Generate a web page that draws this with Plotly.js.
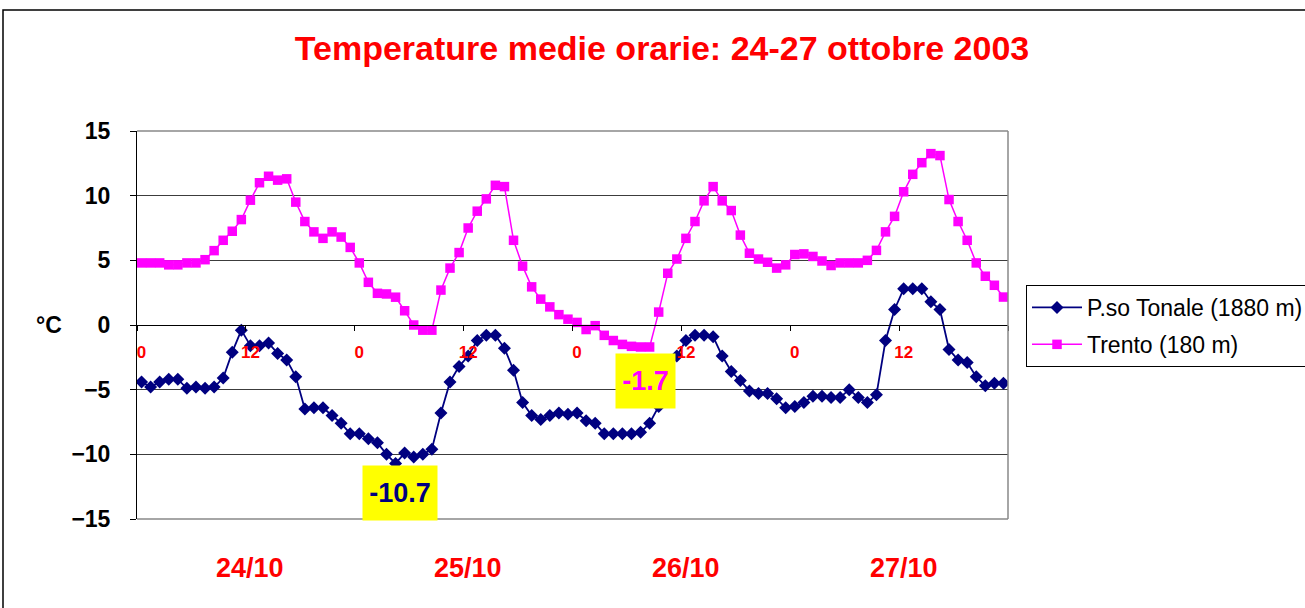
<!DOCTYPE html>
<html>
<head>
<meta charset="utf-8">
<script src="https://cdn.plot.ly/plotly-3.0.1.min.js"></script>
<style>
html,body{margin:0;padding:0;background:#fff;}
#chart{width:1305px;height:608px;}
</style>
</head>
<body>
<div id="chart"></div>
<script>
// ---- data ----
const hours = [0,1,2,3,4,5,6,7,8,9,10,11,12,13,14,15,16,17,18,19,20,21,22,23,
  24,25,26,27,28,29,30,31,32,33,34,35,36,37,38,39,40,41,42,43,44,45,46,47,
  48,49,50,51,52,53,54,55,56,57,58,59,60,61,62,63,64,65,66,67,68,69,70,71,
  72,73,74,75,76,77,78,79,80,81,82,83,84,85,86,87,88,89,90,91,92,93,94,95];

const tonale = [-4.4,-4.8,-4.4,-4.2,-4.2,-4.9,-4.8,-4.9,-4.8,-4.1,-2.1,-0.4,
  -1.6,-1.6,-1.4,-2.2,-2.7,-4.0,-6.5,-6.4,-6.4,-7.0,-7.6,-8.4,
  -8.4,-8.8,-9.1,-10.0,-10.7,-9.9,-10.2,-10.0,-9.6,-6.8,-4.4,-3.2,
  -2.4,-1.2,-0.8,-0.8,-1.8,-3.5,-6.0,-7.0,-7.3,-7.0,-6.8,-6.9,
  -6.8,-7.4,-7.6,-8.4,-8.4,-8.4,-8.4,-8.3,-7.6,-6.3,-3.8,-2.4,
  -1.2,-0.8,-0.8,-0.9,-2.4,-3.6,-4.3,-5.1,-5.3,-5.3,-5.7,-6.4,
  -6.3,-6.0,-5.5,-5.5,-5.6,-5.6,-5.0,-5.6,-6.0,-5.4,-1.2,1.2,
  2.8,2.8,2.8,1.8,1.2,-1.9,-2.7,-2.9,-4.0,-4.7,-4.5,-4.5];

const trento = [4.8,4.8,4.8,4.65,4.65,4.8,4.8,5.05,5.75,6.55,7.25,8.15,
  9.65,11.0,11.5,11.2,11.3,9.5,8.0,7.2,6.7,7.2,6.8,6.0,
  4.8,3.3,2.45,2.4,2.15,1.1,0.0,-0.4,-0.4,2.7,4.4,5.6,
  7.5,8.8,9.75,10.8,10.7,6.55,4.55,2.95,2.0,1.4,0.8,0.45,
  0.2,-0.35,-0.05,-0.8,-1.2,-1.5,-1.65,-1.7,-1.7,1.0,4.0,5.1,
  6.7,8.0,9.6,10.7,9.6,8.85,6.95,5.55,5.1,4.85,4.4,4.65,
  5.45,5.5,5.3,4.95,4.6,4.8,4.8,4.8,5.0,5.77,7.2,8.4,
  10.3,11.65,12.55,13.25,13.1,9.7,8.0,6.55,4.8,3.77,3.07,2.16];

const seriesNames = ['P.so Tonale (1880 m)', 'Trento (180 m)'];
const hourTickVals = [0,12,24,36,48,60,72,84];
const hourTickText = ['0','12','0','12','0','12','0','12'];
const dayCenters = [12,36,60,84];
const dayLabels = ['24/10','25/10','26/10','27/10'];
const yTickVals = [-15,-10,-5,0,5,10,15];
const titleText = 'Temperature medie orarie: 24-27 ottobre 2003';
const yUnit = '°C';

// ---- chart ----
const F = '"Liberation Sans", Arial, Helvetica, sans-serif';
const bounds = hourTickVals.map(v => v - 0.5).concat([hours[hours.length-1] + 0.5]);
const xRange = [hours[0] - 0.5, hours[hours.length-1] + 0.5];

function argMin(a){ let k=0; for(let i=1;i<a.length;i++) if(a[i]<a[k]) k=i; return k; }
const iTon = argMin(tonale), iTre = argMin(trento);

const traces = [
  {x: hours, y: tonale, name: seriesNames[0], type: 'scatter', mode: 'lines+markers',
   xaxis: 'x', yaxis: 'y', legendgroup: 'a',
   line: {color: '#000080', width: 1.8},
   marker: {symbol: 'diamond', size: 10, color: '#000080'}},
  {x: hours, y: trento, name: seriesNames[1], type: 'scatter', mode: 'lines+markers',
   xaxis: 'x2', yaxis: 'y', legendgroup: 'b',
   line: {color: '#FF00FF', width: 1.5},
   marker: {symbol: 'square', size: 9.5, color: '#FF00FF'}}
];

const annotations = [];
dayCenters.forEach((c, i) => annotations.push({
  x: c, xref: 'x', y: -0.1263, yref: 'paper', text: dayLabels[i], showarrow: false,
  xanchor: 'center', yanchor: 'middle',
  font: {family: F, size: 27, color: '#FF0000', weight: 'bold'}
}));
annotations.push({
  x: -0.101, xref: 'paper', y: 0, yref: 'y', text: yUnit, showarrow: false,
  xanchor: 'center', yanchor: 'middle',
  font: {family: F, size: 23, color: '#000', weight: 'bold'}
});
annotations.push({
  x: hours[iTon], xref: 'x', y: tonale[iTon], yref: 'y', text: tonale[iTon].toFixed(1),
  showarrow: false, xanchor: 'center', yanchor: 'middle', xshift: 4, yshift: -29.5,
  width: 74, height: 54, bgcolor: '#FFFF00', borderpad: 0,
  font: {family: F, size: 27, color: '#000080', weight: 'bold'}
});
annotations.push({
  x: hours[iTre], xref: 'x', y: trento[iTre], yref: 'y', text: trento[iTre].toFixed(1),
  showarrow: false, xanchor: 'center', yanchor: 'middle', xshift: 4.5, yshift: -34.5,
  width: 59, height: 54, bgcolor: '#FFFF00', borderpad: 0,
  font: {family: F, size: 27, color: '#FF00FF', weight: 'bold'}
});

const layout = {
  width: 1305, height: 608,
  margin: {l: 137, r: 297, t: 131, b: 89, autoexpand: false},
  paper_bgcolor: '#fff', plot_bgcolor: '#fff',
  showlegend: true,
  title: {text: titleText, x: 662/1305, xref: 'container', xanchor: 'center',
          y: 1 - 48/608, yref: 'container', yanchor: 'middle',
          font: {family: F, size: 34, color: '#FF0000', weight: 'bold'}},
  xaxis: {range: xRange, anchor: 'free', position: 0.5, showgrid: false, zeroline: false,
          showline: true, linecolor: '#000', linewidth: 1,
          ticks: 'outside', ticklen: 5, tickcolor: '#000', tickwidth: 1,
          tickmode: 'array', tickvals: bounds, showticklabels: false},
  xaxis2: {overlaying: 'x', matches: 'x', range: xRange, anchor: 'free', position: 0.5,
           showgrid: false, zeroline: false, showline: false, ticks: '',
           tickmode: 'array', tickvals: hourTickVals, ticktext: hourTickText,
           ticklabelstandoff: 15,
           tickfont: {family: F, size: 17, color: '#FF0000', weight: 'bold'}},
  yaxis: {range: [-15, 15], tickmode: 'array', tickvals: yTickVals,
          showgrid: true, gridcolor: '#3c3c3c', gridwidth: 1, zeroline: false,
          showline: true, linecolor: '#000', linewidth: 1,
          ticks: 'outside', ticklen: 6, tickcolor: '#000',
          ticklabelstandoff: 15,
          tickfont: {family: F, size: 23, color: '#000', weight: 'bold'}},
  legend: {x: (1026-137)/871, y: (519-285)/388, xanchor: 'left', yanchor: 'top',
           bordercolor: '#000', borderwidth: 1, bgcolor: '#fff',
           font: {family: F, size: 23, color: '#000'},
           itemwidth: 50, tracegroupgap: 4},
  shapes: [
    {type: 'line', xref: 'paper', yref: 'paper', x0: 0, x1: 1, y0: 1, y1: 1, line: {color: '#888', width: 1.5}},
    {type: 'line', xref: 'paper', yref: 'paper', x0: 1, x1: 1, y0: 0, y1: 1, line: {color: '#888', width: 1.5}},
    {type: 'line', xref: 'paper', yref: 'paper', x0: 0, x1: 1, y0: 0, y1: 0, line: {color: '#888', width: 1.5}},
    {type: 'rect', xref: 'paper', yref: 'paper', x0: (3-137)/871, x1: (1320-137)/871,
     y0: (519-620)/388, y1: (519-10)/388, line: {color: '#000', width: 1.5}, layer: 'below'}
  ],
  annotations: annotations
};

Plotly.newPlot('chart', traces, layout, {displayModeBar: false, staticPlot: true});
</script>
</body>
</html>
